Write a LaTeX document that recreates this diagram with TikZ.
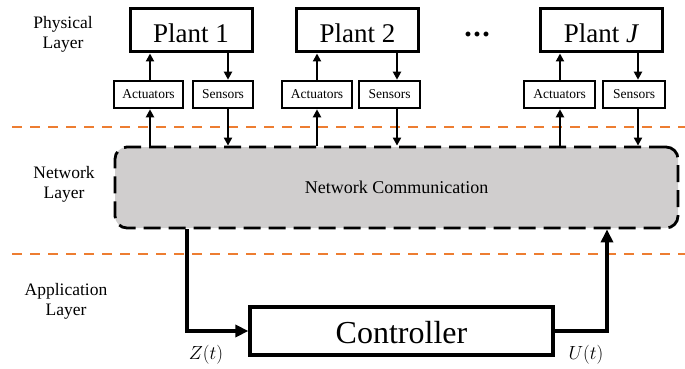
\documentclass[tikz,border=0pt]{standalone}
\usepackage{fix-cm}
\usepackage{fontspec}
\setmainfont{LiberationSerif}[Extension=.ttf,UprightFont=*-Regular,ItalicFont=*-Italic,BoldFont=*-Bold,BoldItalicFont=*-BoldItalic]
\usetikzlibrary{arrows.meta,calc}
\definecolor{netgray}{RGB}{208,206,206}
\definecolor{layerorange}{RGB}{237,125,49}
\begin{document}
\begin{tikzpicture}[x=1pt,y=-1pt,
 plantbox/.style={draw,line width=3pt,minimum width=122pt,minimum height=43pt,inner sep=0pt,font=\rmfamily\fontsize{27}{27}\selectfont,text height=25pt,text depth=0pt},
 iobox/.style={draw,line width=2.6pt,minimum height=27pt,inner sep=0pt,font=\rmfamily\fontsize{13.5}{13.5}\selectfont,text height=9pt,text depth=0pt},
 sig/.style={line width=2.6pt,-{Triangle[length=8pt,width=8pt]}},
 bigsig/.style={line width=3.3pt,-{Triangle[length=13pt,width=12pt]}},
 layerline/.style={draw=layerorange,line width=2pt,dash pattern=on 10pt off 8pt},
 layerlabel/.style={align=center,font=\rmfamily\fontsize{17.5}{20}\selectfont,inner sep=0pt},
 siglabel/.style={font=\fontsize{19}{19}\selectfont,inner sep=0pt}
]
\useasboundingbox (0,0) rectangle (685,369);

% layer separators
\coordinate (l1a) at (12,127);
\coordinate (l1b) at (685,127);
\coordinate (l2a) at (12,254);
\coordinate (l2b) at (685,254);
\draw[layerline] (l1a) -- (l1b);
\draw[layerline] (l2a) -- (l2b);

% layer labels
\node[layerlabel] (physlbl) at (63,34) {Physical\\Layer};
\node[layerlabel] (netlbl) at (64,184) {Network\\Layer};
\node[layerlabel] (applbl) at (66,301) {Application\\Layer};

% plants
\node[plantbox] (p1) at (191,30.5) {Plant 1};
\node[plantbox] (p2) at (357.5,30.5) {Plant 2};
\node[plantbox] (pJ) at (601.5,30.5) {Plant \textit{J}};
\node[anchor=base,inner sep=0pt,font=\rmfamily\fontsize{30}{30}\selectfont\bfseries] (dots) at (477,36.5) {.\kern1.5pt.\kern1.5pt.};

% actuators and sensors
\node[iobox,minimum width=69pt] (a1) at (148.5,94.5) {Actuators};
\node[iobox,minimum width=60pt] (s1) at (223,94.5) {Sensors};
\node[iobox,minimum width=70pt] (a2) at (317,94.5) {Actuators};
\node[iobox,minimum width=61pt] (s2) at (389.5,94.5) {Sensors};
\node[iobox,minimum width=71pt] (aJ) at (559.5,94.5) {Actuators};
\node[iobox,minimum width=62pt] (sJ) at (634,94.5) {Sensors};

% network
\node[draw,fill=netgray,line width=2.8pt,dash pattern=on 17pt off 8pt,rounded corners=12pt,minimum width=563pt,minimum height=81pt,font=\rmfamily\fontsize{18}{18}\selectfont] (net) at (396.5,187.5) {Network Communication};

% controller
\node[draw,line width=3.2pt,minimum width=303pt,minimum height=48pt,inner sep=0pt,font=\rmfamily\fontsize{32}{32}\selectfont,text height=24pt,text depth=0pt] (ctrl) at (401.5,331) {Controller};

% vertical signal positions
\coordinate (x1a) at (150,0);
\coordinate (x1s) at (228,0);
\coordinate (x2a) at (317,0);
\coordinate (x2s) at (397,0);
\coordinate (xJa) at (560,0);
\coordinate (xJs) at (638,0);

\draw[sig] (x1a |- a1.north) -- (x1a |- p1.south);
\draw[sig] (x1s |- p1.south) -- (x1s |- s1.north);
\draw[sig] (x1a |- net.north) -- (x1a |- a1.south);
\draw[sig] (x1s |- s1.south) -- (x1s |- net.north);

\draw[sig] (x2a |- a2.north) -- (x2a |- p2.south);
\draw[sig] (x2s |- p2.south) -- (x2s |- s2.north);
\draw[sig] (x2a |- net.north) -- (x2a |- a2.south);
\draw[sig] (x2s |- s2.south) -- (x2s |- net.north);

\draw[sig] (xJa |- aJ.north) -- (xJa |- pJ.south);
\draw[sig] (xJs |- pJ.south) -- (xJs |- sJ.north);
\draw[sig] (xJa |- net.north) -- (xJa |- aJ.south);
\draw[sig] (xJs |- sJ.south) -- (xJs |- net.north);

% controller loop
\coordinate (zc) at (187,0);
\coordinate (uc) at (607,0);
\draw[bigsig] (zc |- net.south) |- (ctrl.west);
\draw[bigsig] (ctrl.east) -| (uc |- net.south);
\node[siglabel] (zlbl) at (206,355) {$Z(t)$};
\node[siglabel] (ulbl) at (586,355) {$U(t)$};
\end{tikzpicture}
\end{document}
